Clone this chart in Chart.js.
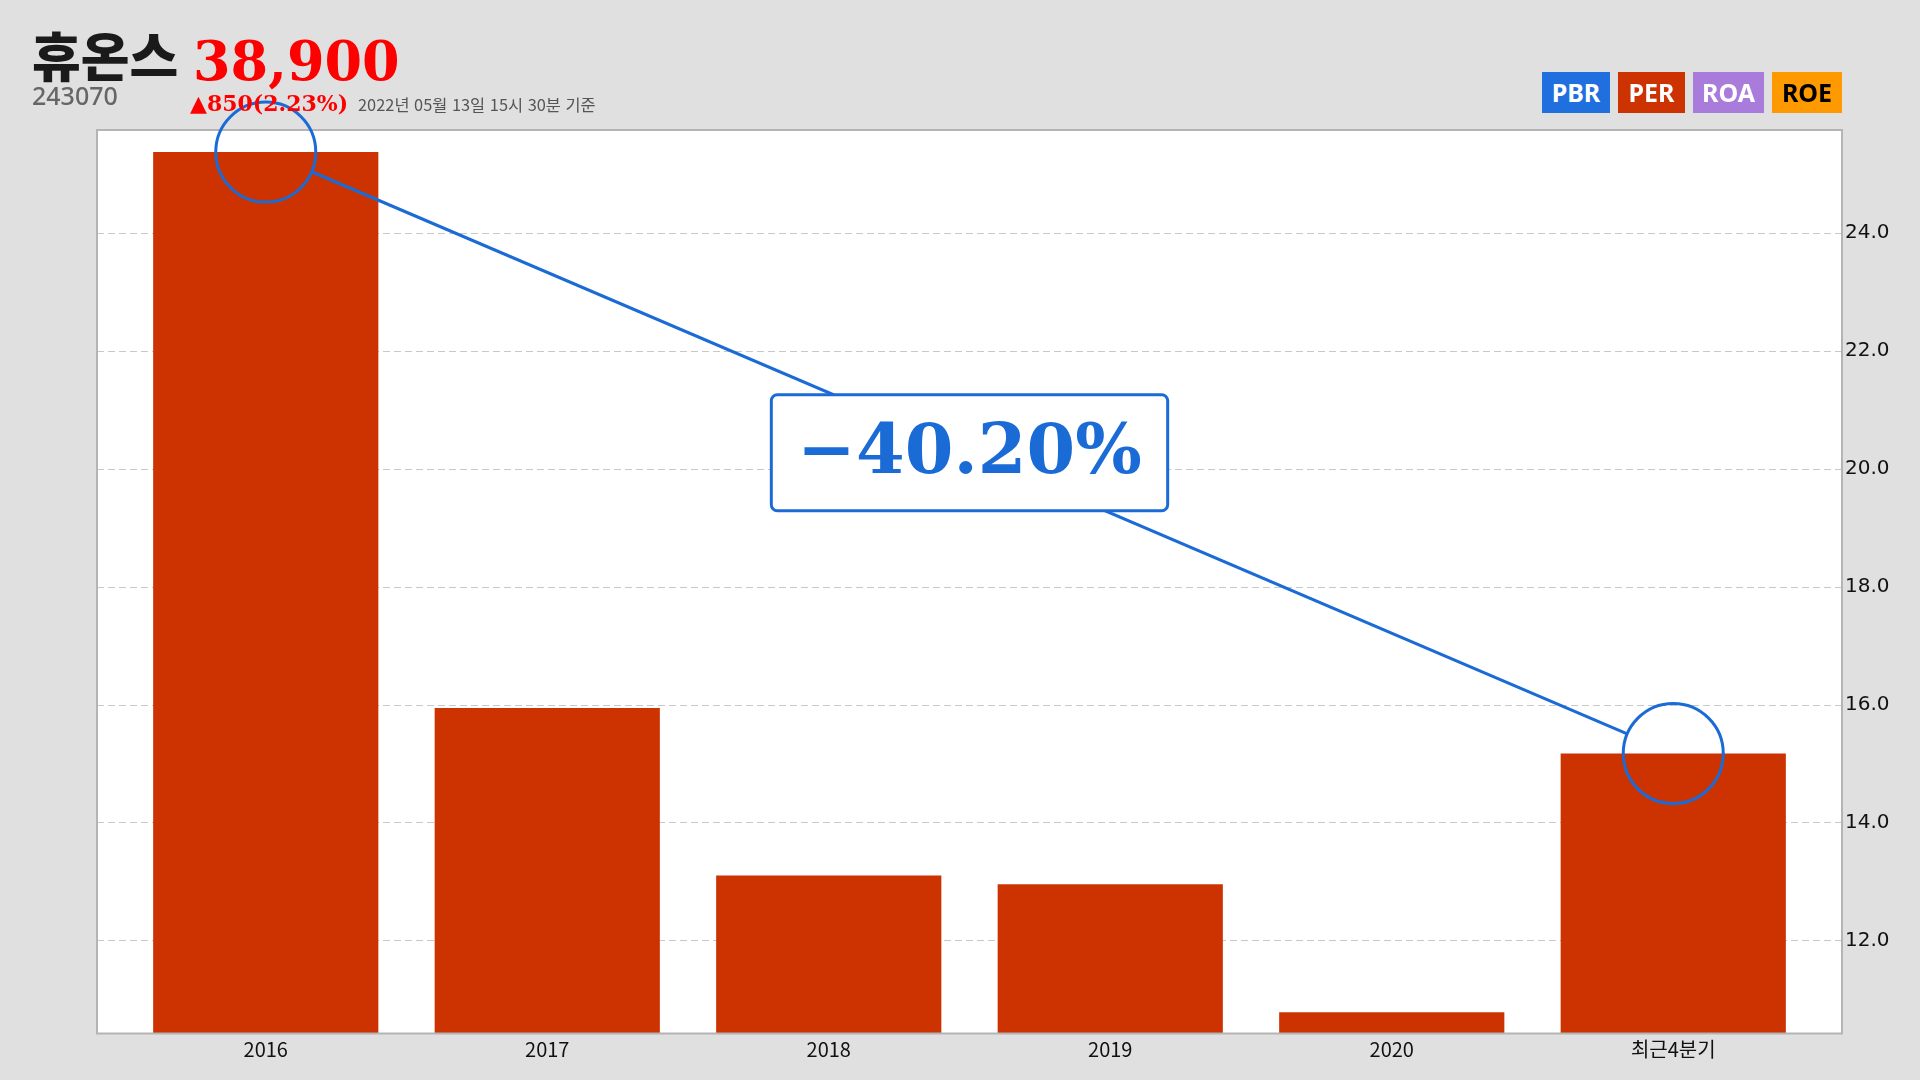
<!DOCTYPE html>
<html lang="ko">
<head>
<meta charset="utf-8">
<script src="https://cdn.jsdelivr.net/npm/chart.js@4/dist/chart.umd.min.js"></script>
<style>
  html, body { margin: 0; padding: 0; background: #e0e0e0; }
  #wrap { position: relative; width: 1920px; height: 1080px; overflow: hidden; }
  #c { position: absolute; left: 0; top: 0; }
  .t { position: absolute; white-space: nowrap; }
  .name { left: 32px; top: 28px; font: 900 53px/53px "Noto Sans CJK KR"; color: #1a1a1a; }
  .price { left: 193px; top: 34px; font: bold 54px/54px "DejaVu Serif"; color: #ff0000; }
  .code { left: 32px; top: 83px; font: 500 25px/25px "Noto Sans"; color: #666; }
  .chg { left: 190px; top: 92px; font: bold 22px/22px "DejaVu Serif"; color: #ff0000; }
  .date { left: 358px; top: 96px; font: 16.4px/16.4px "Noto Sans CJK KR"; color: #555; }
  .tag { position: absolute; top: 72px; height: 41px; display: flex; align-items: center; justify-content: center;
         font: bold 25px/25px "Noto Sans"; color: #fff; }
</style>
</head>
<body>
<div id="wrap">
  <canvas id="c" width="1920" height="1080"></canvas>
  <div class="t name">휴온스</div>
  <div class="t price">38,900</div>
  <div class="t code">243070</div>
  <div class="t chg">▲850(2.23%)</div>
  <div class="t date">2022년 05월 13일 15시 30분 기준</div>
  <div class="tag" style="left:1542px;width:68px;background:#1f6fde">PBR</div>
  <div class="tag" style="left:1618px;width:67px;background:#cc3300">PER</div>
  <div class="tag" style="left:1693px;width:71px;background:#a97bdb">ROA</div>
  <div class="tag" style="left:1772px;width:70px;background:#ff9900;color:#000">ROE</div>
</div>
<script>
// PER by year
const categories = ['2016', '2017', '2018', '2019', '2020', '최근4분기']
const perValues = [25.37, 15.94, 13.10, 12.95, 10.78, 15.17]
const yTicks = [12, 14, 16, 18, 20, 22, 24]
const yMin = 10.42
const yMax = 25.745

const blue = '#1b6bd6'
const framePad = 28

const framePlugin = {
  id: 'frame',
  beforeDraw(chart) {
    const { ctx, chartArea: a, scales } = chart
    ctx.save()
    ctx.fillStyle = '#e0e0e0'
    ctx.fillRect(0, 0, chart.width, chart.height)
    ctx.fillStyle = '#fff'
    ctx.fillRect(a.left - framePad, a.top, a.right - a.left + framePad * 2, a.bottom - a.top)
    // dashed grid
    ctx.strokeStyle = '#c8c8c8'
    ctx.lineWidth = 1
    ctx.setLineDash([7, 4])
    scales.y.ticks.forEach(t => {
      const y = Math.round(scales.y.getPixelForValue(t.value)) + 0.5
      ctx.beginPath()
      ctx.moveTo(a.left - framePad, y)
      ctx.lineTo(a.right + framePad, y)
      ctx.stroke()
    })
    ctx.restore()
  },
  afterDatasetsDraw(chart) {
    const { ctx, chartArea: a, scales } = chart
    ctx.save()
    ctx.strokeStyle = '#b4b4b4'
    ctx.lineWidth = 2
    ctx.strokeRect(a.left - framePad, a.top, a.right - a.left + framePad * 2, a.bottom - a.top)

    // change from first to last
    const last = perValues.length - 1
    const x0 = scales.x.getPixelForValue(0)
    const y0 = scales.y.getPixelForValue(perValues[0])
    const x1 = scales.x.getPixelForValue(last)
    const y1 = scales.y.getPixelForValue(perValues[last])
    const r = 50
    const len = Math.hypot(x1 - x0, y1 - y0)
    const ux = (x1 - x0) / len
    const uy = (y1 - y0) / len
    ctx.strokeStyle = blue
    ctx.lineWidth = 3
    ctx.beginPath()
    ctx.moveTo(x0 + ux * r, y0 + uy * r)
    ctx.lineTo(x1 - ux * r, y1 - uy * r)
    ctx.stroke()
    ;[[x0, y0], [x1, y1]].forEach(([x, y]) => {
      ctx.beginPath()
      ctx.arc(x, y, r, 0, Math.PI * 2)
      ctx.stroke()
    })

    const pct = (perValues[last] / perValues[0] - 1) * 100
    const label = (pct < 0 ? '\u2212' : '+') + Math.abs(pct).toFixed(2) + '%'
    ctx.font = 'bold 70px "DejaVu Serif"'
    const tw = ctx.measureText(label).width
    const mx = (x0 + x1) / 2
    const my = (y0 + y1) / 2
    const bw = tw + 52
    const bh = 116
    ctx.beginPath()
    ctx.roundRect(mx - bw / 2, my - bh / 2, bw, bh, 6)
    ctx.fillStyle = '#fff'
    ctx.fill()
    ctx.lineWidth = 3
    ctx.stroke()
    ctx.fillStyle = blue
    ctx.textAlign = 'center'
    ctx.textBaseline = 'middle'
    ctx.fillText(label, mx, my + 2)
    ctx.restore()
  }
}

new Chart(document.getElementById('c'), {
  type: 'bar',
  data: {
    labels: categories,
    datasets: [{
      data: perValues,
      backgroundColor: '#cc3300',
      barPercentage: 0.8,
      categoryPercentage: 1
    }]
  },
  options: {
    responsive: false,
    animation: false,
    layout: { padding: { left: 125, top: 130, right: 0, bottom: 0 } },
    plugins: { legend: { display: false }, tooltip: { enabled: false } },
    scales: {
      x: {
        grid: { display: false, drawTicks: false },
        border: { display: false },
        ticks: { color: '#111', padding: 4, font: { family: 'Noto Sans CJK KR', size: 20 } },
        afterFit: s => { s.height = 46.5 }
      },
      y: {
        position: 'right',
        min: yMin,
        max: yMax,
        grid: { display: false, drawTicks: false },
        border: { display: false },
        afterBuildTicks: s => { s.ticks = yTicks.map(v => ({ value: v })) },
        ticks: {
          color: '#111',
          padding: 31,
          font: { family: 'DejaVu Sans', size: 20 },
          callback: v => v.toFixed(1)
        },
        afterFit: s => { s.width = 106 }
      }
    }
  },
  plugins: [framePlugin]
})
</script>
</body>
</html>
